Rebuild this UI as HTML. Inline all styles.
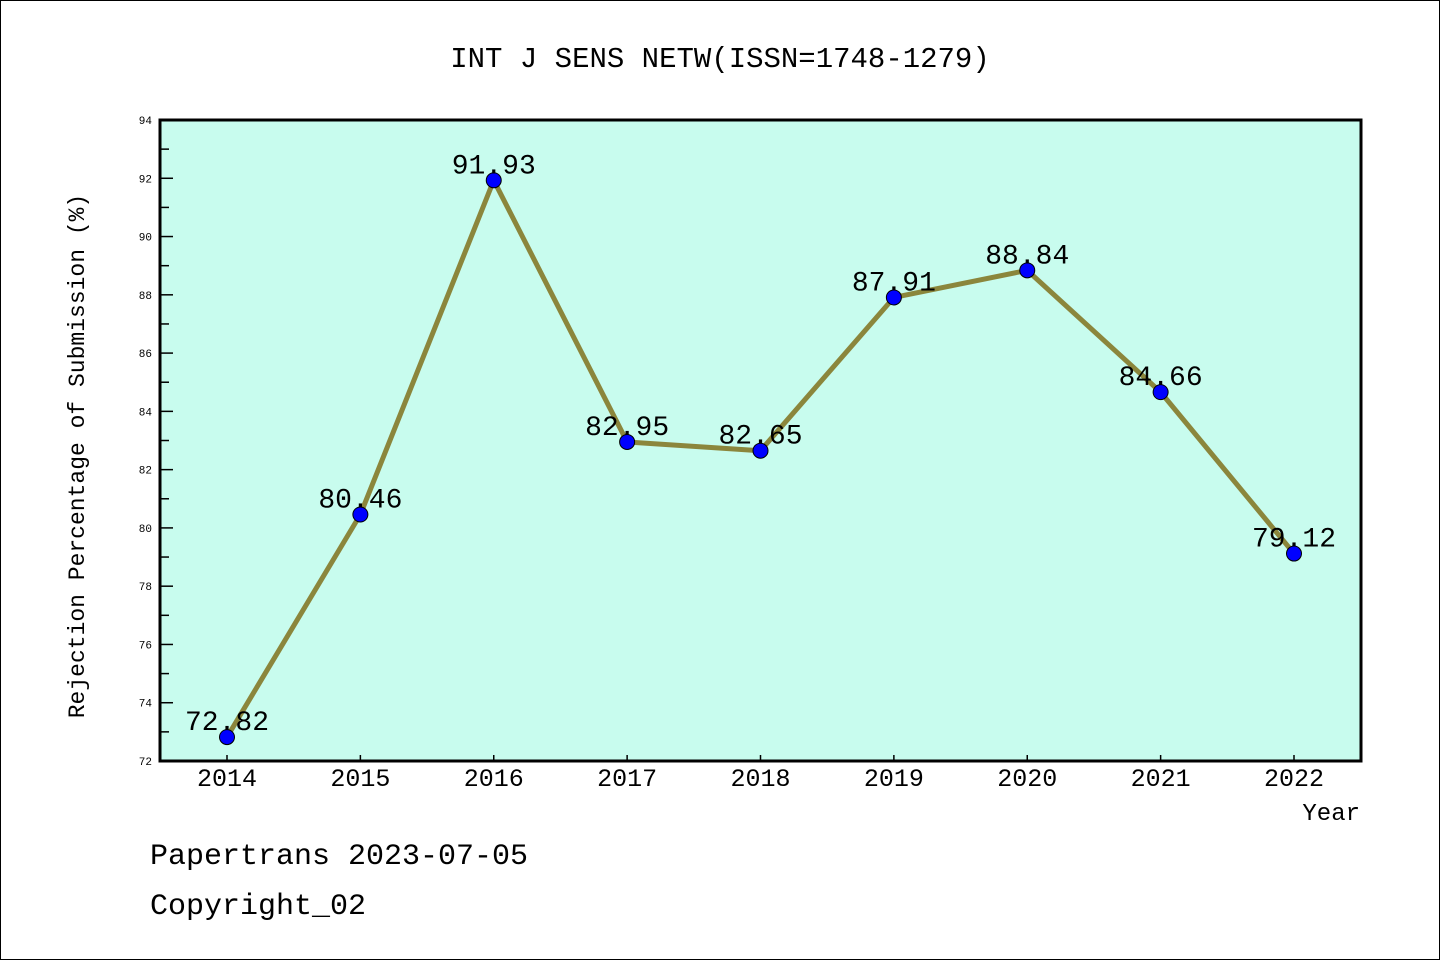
<!DOCTYPE html>
<html><head><meta charset="utf-8"><style>
body{margin:0;background:#fff}
svg text{font-family:"Liberation Mono","WenQuanYi Zen Hei",monospace}
</style></head><body>
<svg width="1440" height="960" viewBox="0 0 1440 960">
<rect x="0.5" y="0.5" width="1439" height="959" fill="#fff" stroke="#000"/>
<text x="720" y="67" font-size="29" text-anchor="middle">INT J SENS NETW(ISSN=1748-1279)</text>
<rect x="160" y="120" width="1201" height="641" fill="#c8fcee" stroke="#000" stroke-width="3"/>
<g id="yax"></g><g id="xax"></g><g id="series"></g>
<text transform="translate(84,456) rotate(-90)" font-size="23" text-anchor="middle">Rejection Percentage of Submission (%)</text>
<text x="1360" y="820" font-size="24" text-anchor="end">Year</text>
<text x="150" y="864" font-size="30">Papertrans 2023-07-05</text>
<text x="150" y="914" font-size="30">Copyright_02</text>
</svg>
<script>
const years=["2014","2015","2016","2017","2018","2019","2020","2021","2022"];
const values=[72.82,80.46,91.93,82.95,82.65,87.91,88.84,84.66,79.12];
const labels=["72.82","80.46","91.93","82.95","82.65","87.91","88.84","84.66","79.12"];
const yTicks=[72,74,76,78,80,82,84,86,88,90,92,94];
const NS="http://www.w3.org/2000/svg";
const x=i=>227+i*(1294-227)/(years.length-1);
const y=v=>761-(v-72)*(641/22);
function mk(t,a,p){const e=document.createElementNS(NS,t);for(const k in a)e.setAttribute(k,a[k]);p.appendChild(e);return e;}
const ya=document.getElementById('yax'),xa=document.getElementById('xax'),s=document.getElementById('series');
yTicks.forEach((v,i)=>{
 const t=mk('text',{x:152,y:y(v)+4,'font-size':11,'text-anchor':'end'},ya);t.textContent=v;
 
 
 mk('line',{x1:160,x2:173,y1:y(v),y2:y(v),stroke:'#000','stroke-width':1.5},ya);
 if(i<yTicks.length-1){mk('line',{x1:160,x2:169,y1:y(v+1),y2:y(v+1),stroke:'#000','stroke-width':1.5},ya);}
});
years.forEach((yr,i)=>{
 mk('line',{x1:x(i),x2:x(i),y1:761,y2:755,stroke:'#000','stroke-width':1.5},xa);
 const t=mk('text',{x:x(i),y:786,'font-size':25,'text-anchor':'middle'},xa);t.textContent=yr;
 
 
});
const pl=mk('polyline',{points:values.map((v,i)=>x(i)+','+y(v)).join(' '),fill:'none',stroke:'#8b863c','stroke-width':5,'stroke-linejoin':'round'},s);


values.forEach((v,i)=>{
 const c=mk('circle',{cx:x(i),cy:y(v),r:7.5,fill:'#0000ff',stroke:'#000','stroke-width':1},s);
 
 
 const t=mk('text',{x:x(i),y:y(v)-7,'font-size':28,'text-anchor':'middle'},s);t.textContent=labels[i];
 
 
});
</script>
</body></html>
